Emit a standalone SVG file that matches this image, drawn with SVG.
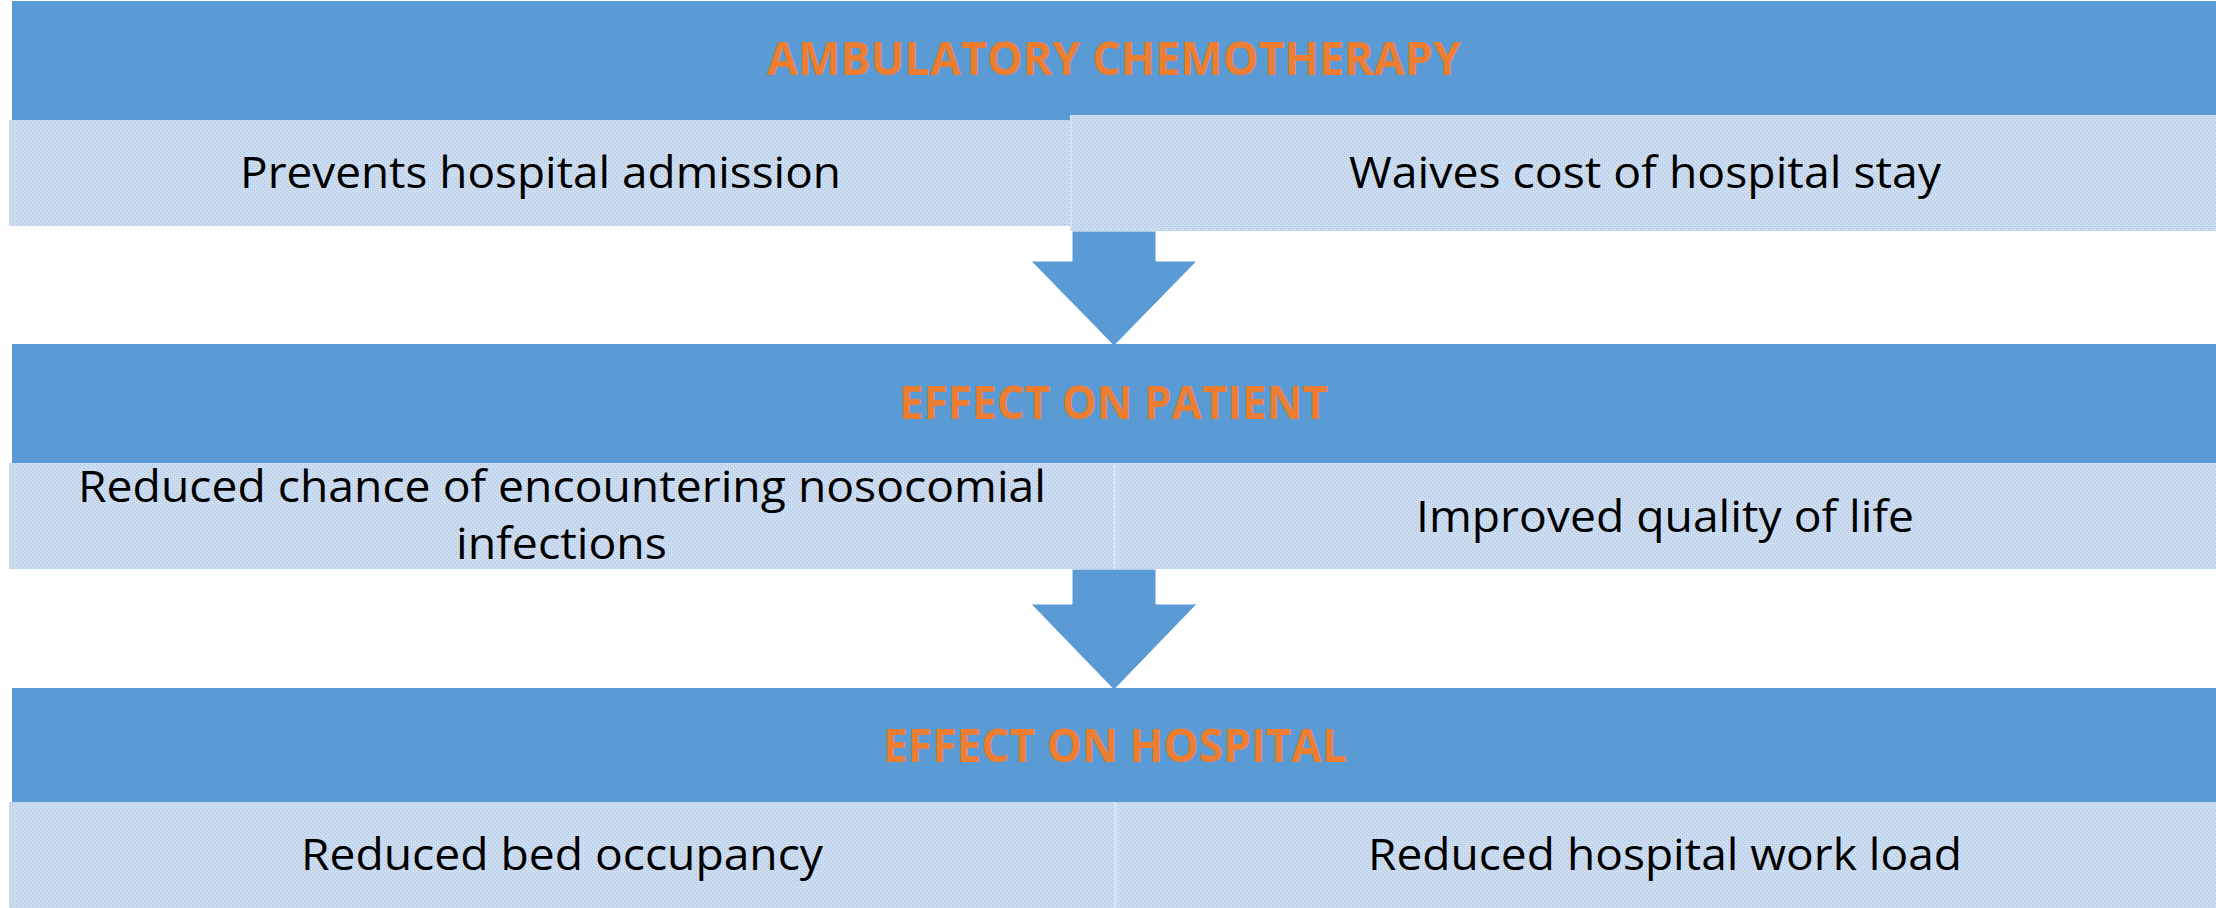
<svg xmlns="http://www.w3.org/2000/svg" width="2216" height="908" viewBox="0 0 2216 908">
<defs>
<pattern id="dots" width="4" height="4" patternUnits="userSpaceOnUse">
<rect width="4" height="4" fill="#cbdbef"/>
<rect x="0" y="0" width="1" height="1" fill="#a8c3e6"/>
<rect x="2" y="2" width="1" height="1" fill="#a8c3e6"/>
<rect x="1" y="3" width="1" height="1" fill="#d9e4f3"/>
<rect x="3" y="1" width="1" height="1" fill="#d9e4f3"/>
</pattern>
<style>
.band{fill:#5b9bd5;}
.box{fill:url(#dots);}
.div{fill:#d6e2f2;}
.head{font-family:"Open Sans","Liberation Sans",sans-serif;font-weight:bold;font-size:46px;fill:#ed7d31;}
.body{font-family:"Open Sans","Liberation Sans",sans-serif;font-size:43px;fill:#000000;}
.arrow{fill:#5b9bd5;stroke:#ffffff;stroke-width:1;}
</style>
</defs>
<rect x="0" y="0" width="2216" height="908" fill="#ffffff"/>

<g id="connectors">
<polygon class="arrow" points="1072,231 1156,231 1156,261 1197,261 1114,346 1031,261 1072,261"/>
<polygon class="arrow" points="1072,569 1156,569 1156,604 1197,604 1114,690 1031,604 1072,604"/>
</g>

<g id="ambulatory-chemotherapy">
<rect class="band" x="12" y="1" width="2204" height="119"/>
<text class="head" x="767" y="75" textLength="694" lengthAdjust="spacingAndGlyphs">AMBULATORY CHEMOTHERAPY</text>
</g>
<g id="prevents-hospital-admission">
<rect class="box" x="9" y="120" width="1061" height="106"/>
<text class="body" x="240" y="188" textLength="601" lengthAdjust="spacingAndGlyphs">Prevents hospital admission</text>
</g>
<g id="waives-cost">
<rect class="box" x="1070" y="115" width="1146" height="116"/>
<rect class="div" x="1070" y="115" width="2" height="116"/>
<text class="body" x="1349" y="188" textLength="592" lengthAdjust="spacingAndGlyphs">Waives cost of hospital stay</text>
</g>

<g id="effect-on-patient">
<rect class="band" x="12" y="344" width="2204" height="119"/>
<text class="head" x="899" y="419" textLength="429" lengthAdjust="spacingAndGlyphs">EFFECT ON PATIENT</text>
</g>
<g id="reduced-nosocomial">
<rect class="box" x="9" y="463" width="1105" height="106"/>
<text class="body" x="78" y="502" textLength="968" lengthAdjust="spacingAndGlyphs">Reduced chance of encountering nosocomial</text>
<text class="body" x="456" y="559" textLength="211" lengthAdjust="spacingAndGlyphs">infections</text>
</g>
<g id="improved-quality">
<rect class="box" x="1114" y="463" width="1102" height="106"/>
<rect class="div" x="1113" y="463" width="3" height="106"/>
<text class="body" x="1416" y="532" textLength="498" lengthAdjust="spacingAndGlyphs">Improved quality of life</text>
</g>

<g id="effect-on-hospital">
<rect class="band" x="12" y="688" width="2204" height="114"/>
<text class="head" x="883" y="762" textLength="464" lengthAdjust="spacingAndGlyphs">EFFECT ON HOSPITAL</text>
</g>
<g id="reduced-bed">
<rect class="box" x="9" y="802" width="1105" height="106"/>
<text class="body" x="301" y="870" textLength="522" lengthAdjust="spacingAndGlyphs">Reduced bed occupancy</text>
</g>
<g id="reduced-work-load">
<rect class="box" x="1114" y="802" width="1102" height="106"/>
<rect class="div" x="1114" y="802" width="3" height="106"/>
<text class="body" x="1368" y="870" textLength="594" lengthAdjust="spacingAndGlyphs">Reduced hospital work load</text>
</g>
</svg>
